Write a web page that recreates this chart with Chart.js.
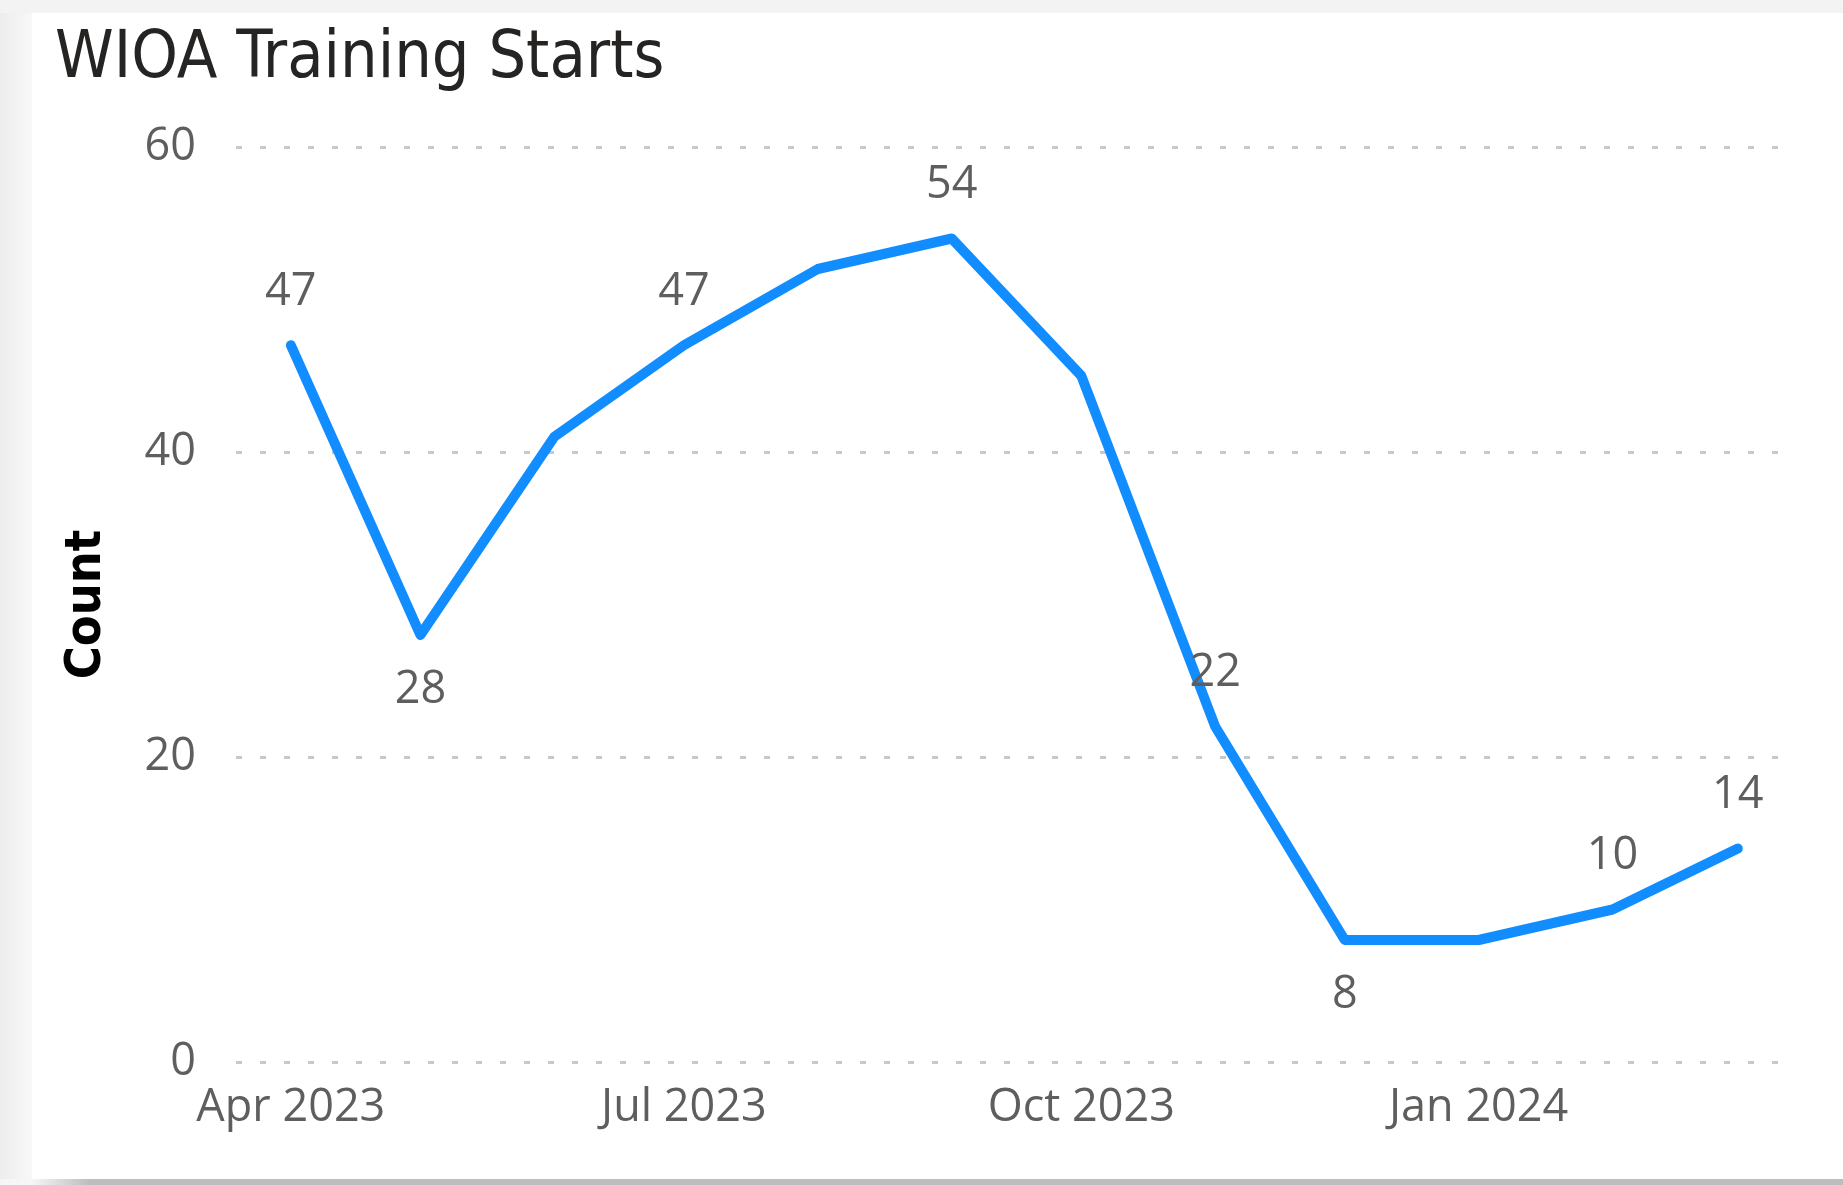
<!DOCTYPE html>
<html>
<head>
<meta charset="utf-8">
<script src="https://cdn.jsdelivr.net/npm/chart.js@4.4.1/dist/chart.umd.min.js"></script>
<style>
  html, body { margin: 0; padding: 0; width: 1843px; height: 1185px; overflow: hidden; background: #f3f3f3; }
  #leftShade { position: absolute; left: 0; top: 13px; width: 32px; height: 1172px; background: linear-gradient(to right, #ededed, #f8f8f8); }
  #card { position: absolute; left: 32px; top: 13px; width: 1811px; height: 1166px; background: #ffffff; }
  #bottomShade { position: absolute; left: 0; top: 1179px; width: 1843px; height: 6px; background: linear-gradient(to right, #f6f6f6 0px, #f6f6f6 32px, #bdbdbd 90px, #bdbdbd 100%); }
  #title { position: absolute; left: 55px; top: 22px; font-family: "DejaVu Sans Condensed", "DejaVu Sans"; font-stretch: semi-condensed; font-size: 66px; line-height: 66px; color: #252423; white-space: nowrap; }
  #wrap { position: absolute; left: 0; top: 0; width: 1843px; height: 1185px; }
</style>
</head>
<body>
<div id="leftShade"></div>
<div id="card"></div>
<div id="bottomShade"></div>
<div id="title">WIOA Training Starts</div>
<div id="wrap"><canvas id="chart" width="1843" height="1185"></canvas></div>
<script>
// ---- data ----
const months = ['2023-04','2023-05','2023-06','2023-07','2023-08','2023-09','2023-10','2023-11','2023-12','2024-01','2024-02','2024-03'];
const counts = [47, 28, 41, 47, 52, 54, 45, 22, 8, 8, 10, 14];
const labelPlacement = ['above','below',null,'above',null,'above',null,'above','below',null,'above','above'];
const tickMonths = ['2023-04','2023-07','2023-10','2024-01'];
const tickLabels = ['Apr 2023','Jul 2023','Oct 2023','Jan 2024'];
const yTicks = [0, 20, 40, 60];

// month strings -> day offsets (continuous date axis)
function dayOf(m) {
  const [y, mo] = m.split('-').map(Number);
  const [by, bmo] = months[0].split('-').map(Number);
  return (Date.UTC(y, mo - 1, 1) - Date.UTC(by, bmo - 1, 1)) / 86400000;
}
const points = months.map((m, i) => ({ x: dayOf(m), y: counts[i] }));
const tickDays = tickMonths.map(dayOf);
const firstDay = dayOf(months[0]);
const lastDay = dayOf(months[months.length - 1]);

const labelFont = '45px "Open Sans"';
const labelColor = '#605e5c';

const dataLabelPlugin = {
  id: 'dataLabels',
  afterDatasetsDraw(chart) {
    const ctx = chart.ctx;
    const meta = chart.getDatasetMeta(0);
    ctx.save();
    ctx.font = labelFont;
    ctx.fillStyle = labelColor;
    ctx.textAlign = 'center';
    ctx.textBaseline = 'middle';
    meta.data.forEach((el, i) => {
      const pos = labelPlacement[i];
      if (!pos) return;
      const off = pos === 'above' ? -53 : 55;
      ctx.fillText(String(counts[i]), el.x, el.y + off);
    });
    ctx.restore();
  }
};

new Chart(document.getElementById('chart'), {
  type: 'line',
  data: {
    datasets: [{
      data: points,
      borderColor: '#118DFF',
      borderWidth: 10,
      pointRadius: 0,
      pointHoverRadius: 0,
      tension: 0,
      borderJoinStyle: 'round',
      borderCapStyle: 'round',
      fill: false
    }]
  },
  options: {
    responsive: false,
    animation: false,
    events: [],
    layout: { padding: { top: 147, right: 62, bottom: 0, left: 0 } },
    plugins: { legend: { display: false }, tooltip: { enabled: false }, title: { display: false } },
    scales: {
      x: {
        type: 'linear',
        min: firstDay - 12.7,
        max: lastDay + 10,
        afterFit(scale) { scale.height = 123; },
        afterBuildTicks(scale) { scale.ticks = tickDays.map(v => ({ value: v })); },
        grid: { display: false, drawTicks: false },
        border: { display: false },
        ticks: {
          autoSkip: false,
          maxRotation: 0,
          padding: 19,
          color: labelColor,
          font: { family: 'Open Sans', size: 45 },
          callback(value) { const k = tickDays.indexOf(value); return k >= 0 ? tickLabels[k] : ''; }
        }
      },
      y: {
        min: 0,
        max: 60,
        afterFit(scale) { scale.width = 236; },
        afterBuildTicks(scale) { scale.ticks = yTicks.map(v => ({ value: v })); },
        grid: { color: '#c8c8c8', lineWidth: 3, drawTicks: false },
        border: { display: false, dash: [6, 18] },
        ticks: {
          padding: 40,
          color: labelColor,
          font: { family: 'Open Sans', size: 45 }
        },
        title: {
          display: true,
          text: 'Count',
          color: '#000000',
          font: { family: 'DejaVu Sans Condensed', size: 50, weight: 'bold' },
          padding: { top: 57, bottom: 0 }
        }
      }
    }
  },
  plugins: [dataLabelPlugin]
});
</script>
</body>
</html>
